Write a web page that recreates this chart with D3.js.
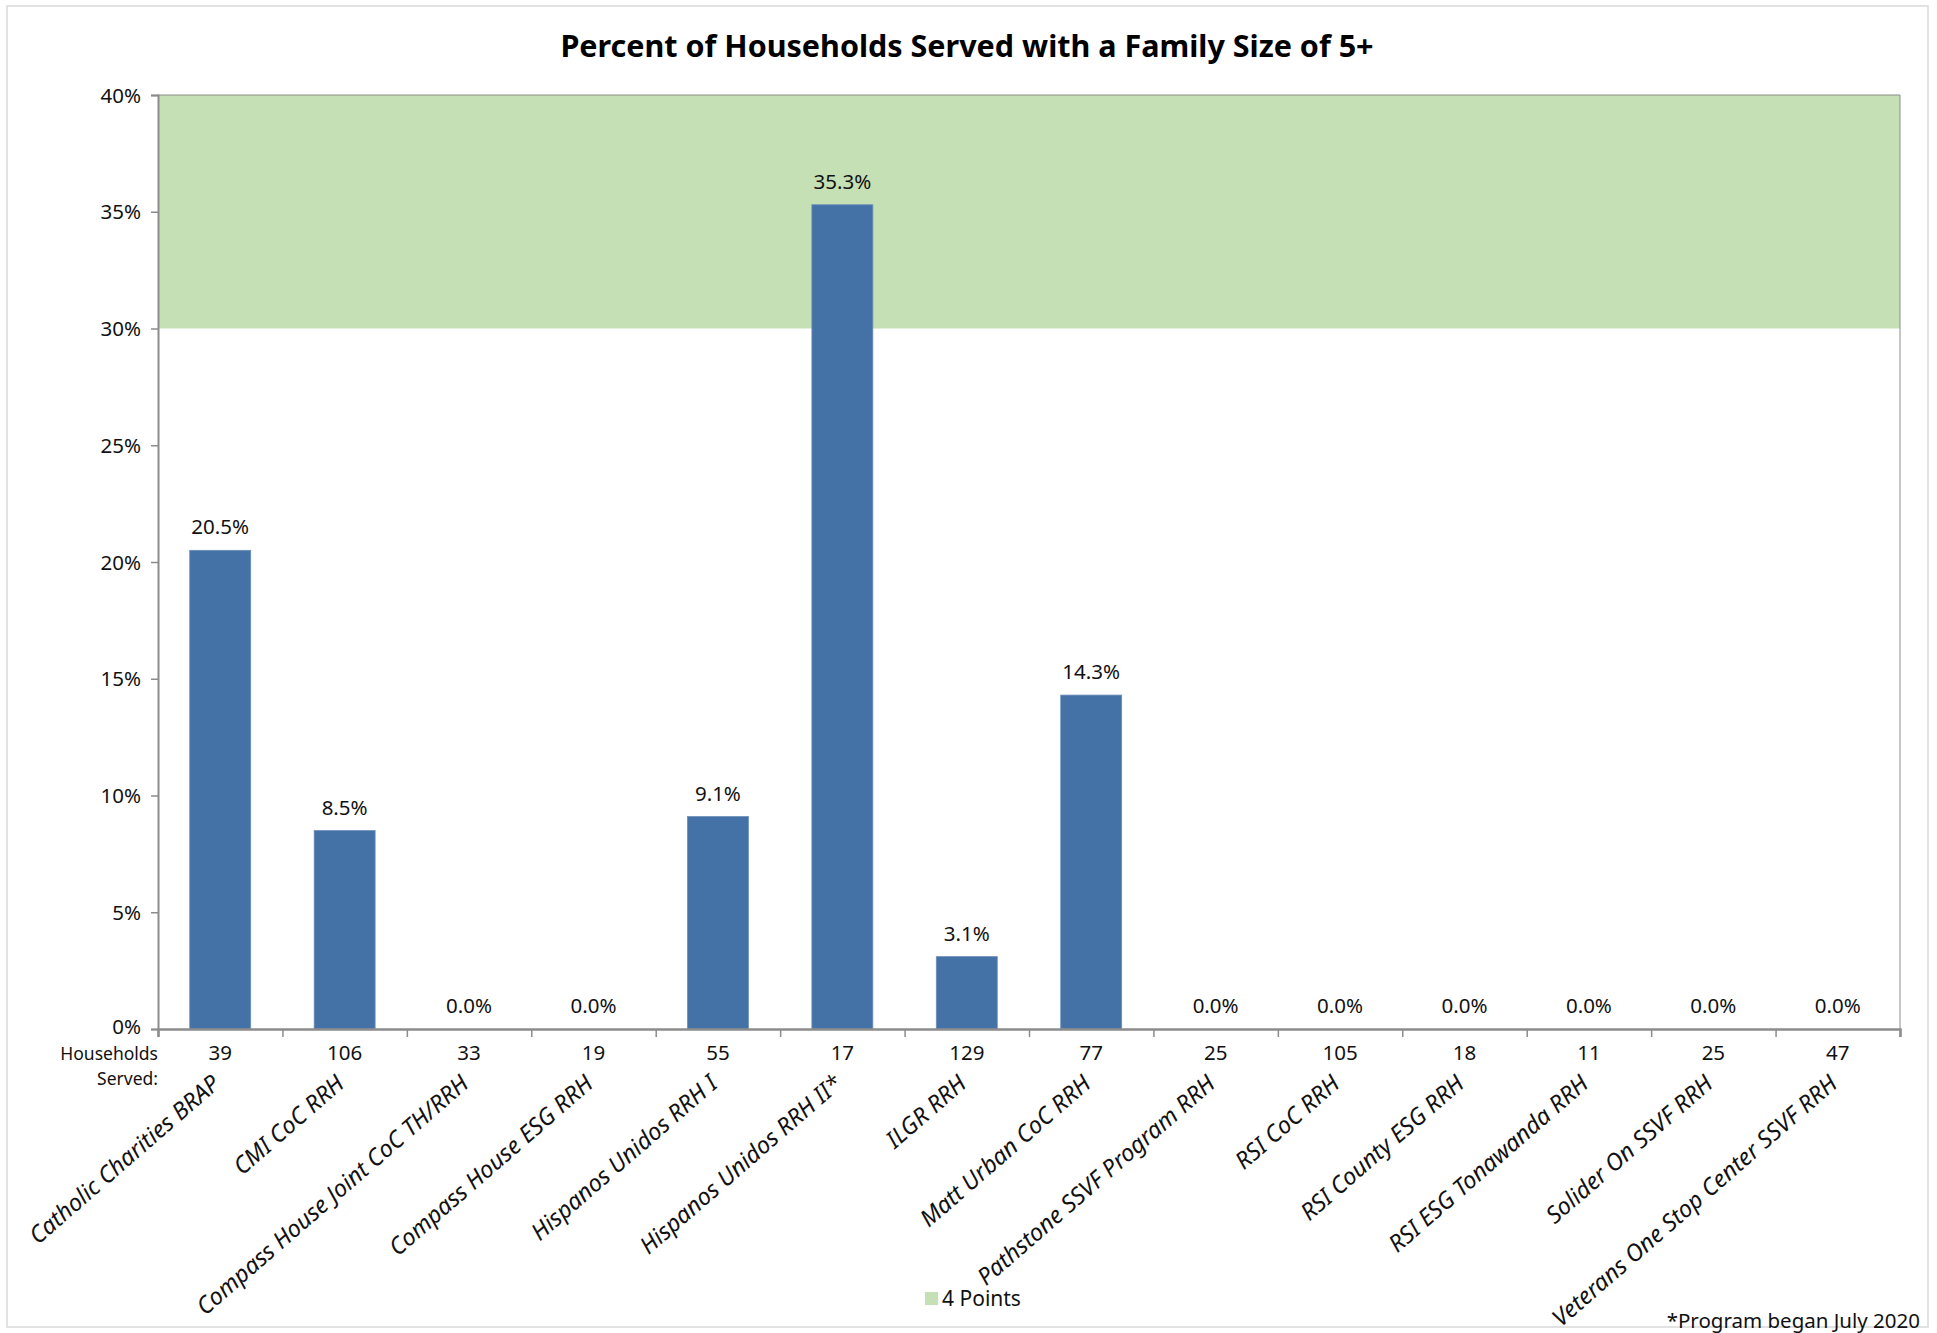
<!DOCTYPE html>
<html><head><meta charset="utf-8">
<script src="https://cdn.jsdelivr.net/npm/d3@7"></script>
<style>body{margin:0;background:#fff;} svg{display:block;}</style>
</head><body>
<script>
const categories = ["Catholic Charities BRAP","CMI CoC RRH","Compass House Joint CoC TH/RRH","Compass House ESG RRH","Hispanos Unidos RRH I","Hispanos Unidos RRH II*","ILGR RRH","Matt Urban CoC RRH","Pathstone SSVF Program RRH","RSI CoC RRH","RSI County ESG RRH","RSI ESG Tonawanda RRH","Solider On SSVF RRH","Veterans One Stop Center SSVF RRH"];
const percentValues = [20.5, 8.5, 0.0, 0.0, 9.1, 35.3, 3.1, 14.3, 0.0, 0.0, 0.0, 0.0, 0.0, 0.0];
const householdsServed = [39, 106, 33, 19, 55, 17, 129, 77, 25, 105, 18, 11, 25, 47];
const yTicks = [0, 5, 10, 15, 20, 25, 30, 35, 40];
const bandRange = [30, 40];
const legendLabel = "4 Points";
const titleText = "Percent of Households Served with a Family Size of 5+";
const footnote = "*Program began July 2020";

const W = 1937, H = 1333;
const font = "'Noto Sans', 'DejaVu Sans', sans-serif";
const svg = d3.select("body").append("svg").attr("width", W).attr("height", H);
svg.append("rect").attr("x", 7).attr("y", 6).attr("width", 1921).attr("height", 1321)
  .attr("fill", "#fff").attr("stroke", "#d9d9d9").attr("stroke-width", 1.5);

const m = {left: 158, right: 1900, top: 95, bottom: 1029};
const x = d3.scaleBand().domain(categories).range([m.left, m.right]).paddingInner(0.51).paddingOuter(0.255);
const y = d3.scaleLinear().domain([0, 40]).range([m.bottom, m.top]);

// green band
svg.append("rect").attr("x", m.left).attr("width", m.right - m.left)
  .attr("y", y(bandRange[1])).attr("height", y(bandRange[0]) - y(bandRange[1]))
  .attr("fill", "#C5E0B4");
svg.append("path").attr("d", `M${m.left},${m.top}H${m.right}V${m.bottom}`)
  .attr("fill", "none").attr("stroke", "#8c8c8c").attr("stroke-width", 1);

// bars
svg.selectAll("rect.bar").data(percentValues).join("rect").attr("class", "bar")
  .attr("x", (d, i) => x(categories[i])).attr("width", x.bandwidth())
  .attr("y", d => y(d)).attr("height", d => y(0) - y(d))
  .attr("fill", "#4472A6").attr("stroke", "#6d8fbb").attr("stroke-width", 0.8);

// data labels
svg.selectAll("text.dl").data(percentValues).join("text").attr("class", "dl")
  .attr("x", (d, i) => x(categories[i]) + x.bandwidth() / 2)
  .attr("y", d => y(d) - 16)
  .attr("text-anchor", "middle").attr("font-family", font).attr("font-size", 20.5).attr("fill", "#111")
  .text(d => d.toFixed(1) + "%");

// y axis
const yAxis = d3.axisLeft(y).tickValues(yTicks).tickFormat(d => d + "%").tickSize(7).tickPadding(10);
const gy = svg.append("g").attr("transform", `translate(${m.left},0)`).call(yAxis);
gy.select(".domain").attr("stroke", "#8c8c8c").attr("stroke-width", 2);
gy.selectAll(".tick line").attr("stroke", "#8c8c8c").attr("stroke-width", 1.5);
gy.selectAll("text").attr("font-family", font).attr("font-size", 20.5).attr("fill", "#111")
  .attr("dy", d => d === 0 ? "0.2em" : "0.35em");

// x axis line & ticks between categories
const xb = d3.scaleLinear().domain([0, categories.length]).range([m.left, m.right]);
const xAxis = d3.axisBottom(xb).tickValues(d3.range(0, categories.length + 1)).tickSize(8).tickFormat("");
const gx = svg.append("g").attr("transform", `translate(0,${m.bottom})`).call(xAxis);
gx.select(".domain").attr("stroke", "#8c8c8c").attr("stroke-width", 2.5);
gx.selectAll(".tick line").attr("stroke", "#8c8c8c").attr("stroke-width", 1.5);

// households row
svg.selectAll("text.hh").data(householdsServed).join("text").attr("class", "hh")
  .attr("x", (d, i) => x(categories[i]) + x.bandwidth() / 2).attr("y", 1060)
  .attr("text-anchor", "middle").attr("font-family", font).attr("font-size", 20.5).attr("fill", "#111")
  .text(d => d);
const hhLabel = svg.append("text").attr("text-anchor", "end")
  .attr("font-family", font).attr("font-size", 17.5).attr("fill", "#111");
hhLabel.append("tspan").attr("x", m.left).attr("y", 1060).text("Households");
hhLabel.append("tspan").attr("x", m.left).attr("y", 1085).text("Served:");

// category labels rotated
svg.selectAll("text.cat").data(categories).join("text").attr("class", "cat")
  .attr("transform", d => `translate(${x(d) + x.bandwidth() / 2 + 1},${1086}) rotate(-41)`)
  .attr("text-anchor", "end").attr("font-family", font).attr("font-style", "italic")
  .attr("font-size", 23.5).attr("fill", "#111").text(d => d);

// title
svg.append("text").attr("x", 967).attr("y", 57).attr("text-anchor", "middle")
  .attr("font-family", font).attr("font-weight", "bold").attr("font-size", 30.5).attr("fill", "#000")
  .text(titleText);

// legend
svg.append("rect").attr("x", 925).attr("y", 1292).attr("width", 13).attr("height", 13).attr("fill", "#C5E0B4");
svg.append("text").attr("x", 942).attr("y", 1306).attr("font-family", font).attr("font-size", 21).attr("fill", "#111").text(legendLabel);

// footnote
svg.append("text").attr("x", 1920).attr("y", 1328).attr("text-anchor", "end")
  .attr("font-family", font).attr("font-size", 20.5).attr("fill", "#111").text(footnote);
</script>
</body></html>
